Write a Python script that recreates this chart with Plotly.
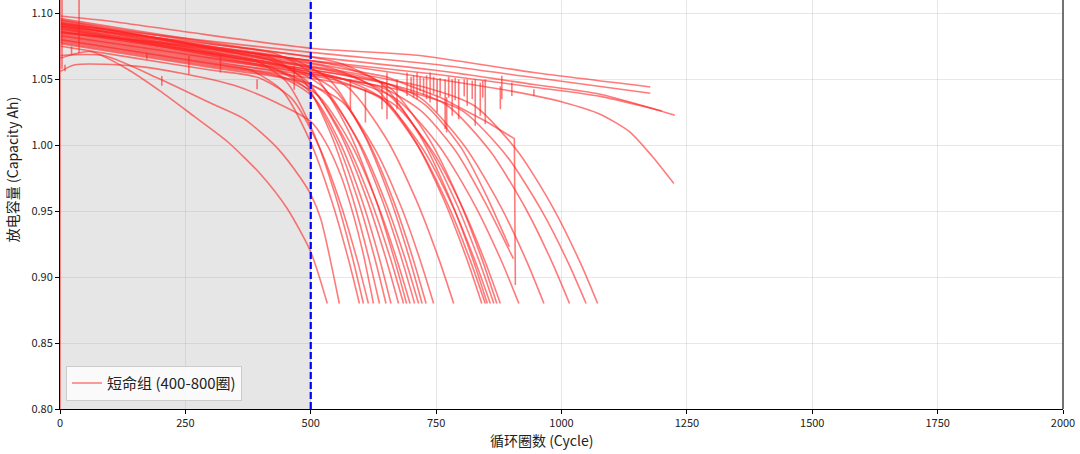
import plotly.graph_objects as go

# ---------------- data ----------------
LEGEND_LABEL = "短命组 (400-800圈)"
X_TITLE = "循环圈数 (Cycle)"
Y_TITLE = "放电容量 (Capacity Ah)"
x_ticks = [0, 250, 500, 750, 1000, 1250, 1500, 1750, 2000]
y_ticks = [0.80, 0.85, 0.90, 0.95, 1.00, 1.05, 1.10]
split_cycle = 500

c01_x = [1, 60, 133, 200, 267, 333, 400, 453, 500, 533]
c01_y = [1.066, 1.071, 1.058, 1.041, 1.022, 1.003, 0.978, 0.952, 0.919, 0.880]
c02_x = [1, 87, 200, 300, 367, 433, 480, 501, 520, 557]
c02_y = [1.068, 1.068, 1.050, 1.032, 1.020, 0.998, 0.975, 0.962, 0.944, 0.880]
c03_x = [1, 30, 150, 250, 350, 433, 500, 530, 560, 585, 605, 625]
c03_y = [1.056, 1.061, 1.060, 1.054, 1.045, 1.032, 1.018, 1.002, 0.977, 0.947, 0.917, 0.880]
c04_x = [2, 150, 300, 377, 443, 498, 542, 575, 597]
c04_y = [1.080, 1.071, 1.062, 1.0574, 1.0414, 1.0037, 0.9576, 0.9137, 0.880]
c05_x = [2, 150, 300, 385, 451, 506, 550, 583, 605]
c05_y = [1.088, 1.079, 1.070, 1.0649, 1.0483, 1.0090, 0.9609, 0.9151, 0.880]
c06_x = [2, 150, 300, 395, 461, 516, 560, 593, 615]
c06_y = [1.075, 1.066, 1.057, 1.0513, 1.0359, 0.9995, 0.9549, 0.9125, 0.880]
c07_x = [2, 150, 300, 417, 483, 538, 582, 615, 637]
c07_y = [1.092, 1.083, 1.074, 1.0670, 1.0502, 1.0104, 0.9618, 0.9155, 0.880]
c08_x = [2, 150, 300, 430, 496, 551, 595, 628, 650]
c08_y = [1.083, 1.074, 1.065, 1.0572, 1.0413, 1.0036, 0.9575, 0.9137, 0.880]
c09_x = [2, 150, 300, 440, 506, 561, 605, 638, 660]
c09_y = [1.078, 1.069, 1.060, 1.0516, 1.0362, 0.9997, 0.9551, 0.9126, 0.880]
c10_x = [2, 150, 300, 415, 493, 558, 610, 649, 675]
c10_y = [1.090, 1.081, 1.072, 1.0651, 1.0484, 1.0091, 0.9610, 0.9152, 0.880]
c11_x = [2, 150, 300, 425, 503, 568, 620, 659, 685]
c11_y = [1.084, 1.075, 1.066, 1.0585, 1.0424, 1.0045, 0.9581, 0.9139, 0.880]
c12_x = [2, 150, 300, 431, 509, 574, 626, 665, 691]
c12_y = [1.095, 1.086, 1.077, 1.0691, 1.0521, 1.0119, 0.9627, 0.9159, 0.880]
c13_x = [2, 150, 300, 438, 516, 581, 633, 672, 698]
c13_y = [1.079, 1.070, 1.061, 1.0527, 1.0372, 1.0005, 0.9556, 0.9128, 0.880]
c14_x = [2, 150, 300, 447, 525, 590, 642, 681, 707]
c14_y = [1.087, 1.078, 1.069, 1.0602, 1.0440, 1.0057, 0.9588, 0.9142, 0.880]
c15_x = [2, 150, 300, 455, 533, 598, 650, 689, 715]
c15_y = [1.081, 1.072, 1.063, 1.0537, 1.0381, 1.0012, 0.9560, 0.9130, 0.880]
c16_x = [2, 150, 300, 462, 540, 605, 657, 696, 722]
c16_y = [1.093, 1.084, 1.075, 1.0653, 1.0486, 1.0092, 0.9611, 0.9152, 0.880]
c17_x = [2, 150, 300, 470, 548, 613, 665, 704, 730]
c17_y = [1.086, 1.077, 1.068, 1.0578, 1.0418, 1.0040, 0.9578, 0.9138, 0.880]
c18_x = [2, 150, 300, 485, 563, 628, 680, 719, 745]
c18_y = [1.077, 1.068, 1.059, 1.0479, 1.0328, 0.9971, 0.9535, 0.9119, 0.880]
c19_x = [2, 150, 300, 485, 575, 650, 710, 755, 785]
c19_y = [1.089, 1.080, 1.071, 1.0599, 1.0437, 1.0055, 0.9587, 0.9142, 0.880]
c20_x = [2, 150, 350, 541, 631, 706, 766, 811, 841]
c20_y = [1.091, 1.082, 1.070, 1.0585, 1.0424, 1.0045, 0.9581, 0.9139, 0.880]
c21_x = [2, 150, 350, 548, 638, 713, 773, 818, 848]
c21_y = [1.085, 1.076, 1.064, 1.0521, 1.0366, 1.0000, 0.9553, 0.9127, 0.880]
c22_x = [2, 150, 350, 552, 642, 717, 777, 822, 852]
c22_y = [1.096, 1.087, 1.075, 1.0629, 1.0464, 1.0076, 0.9600, 0.9148, 0.880]
c23_x = [2, 150, 350, 558, 648, 723, 783, 828, 858]
c23_y = [1.082, 1.073, 1.061, 1.0485, 1.0333, 0.9975, 0.9537, 0.9120, 0.880]
c24_x = [2, 150, 350, 565, 655, 730, 790, 835, 865]
c24_y = [1.088, 1.079, 1.067, 1.0541, 1.0384, 1.0014, 0.9562, 0.9131, 0.880]
c25_x = [2, 150, 350, 571, 661, 736, 796, 841, 871]
c25_y = [1.093, 1.084, 1.072, 1.0587, 1.0426, 1.0046, 0.9582, 0.9140, 0.880]
c26_x = [2, 150, 350, 578, 668, 743, 803, 848, 878]
c26_y = [1.080, 1.071, 1.059, 1.0453, 1.0304, 0.9953, 0.9523, 0.9114, 0.880]
c27_x = [2, 150, 350, 565, 670, 757, 827, 880, 915]
c27_y = [1.090, 1.080, 1.066, 1.0504, 1.0351, 0.9989, 0.9546, 0.9124, 0.880]
c28_x = [2, 150, 400, 615, 720, 807, 877, 930, 965]
c28_y = [1.094, 1.084, 1.066, 1.0509, 1.0355, 0.9992, 0.9548, 0.9125, 0.880]
c29_x = [2, 200, 450, 666, 771, 858, 928, 981, 1016]
c29_y = [1.092, 1.078, 1.0605, 1.0454, 1.0305, 0.9954, 0.9524, 0.9114, 0.880]
c30_x = [2, 200, 450, 699, 804, 891, 961, 1014, 1049]
c30_y = [1.089, 1.075, 1.0575, 1.0401, 1.0257, 0.9917, 0.9500, 0.9104, 0.880]
c31_x = [2, 200, 450, 722, 827, 914, 984, 1037, 1072]
c31_y = [1.095, 1.081, 1.0635, 1.0445, 1.0297, 0.9947, 0.9520, 0.9113, 0.880]
c32_x = [2, 200, 450, 650, 730, 800, 850, 896]
c32_y = [1.086, 1.075, 1.060, 1.047, 1.030, 0.998, 0.962, 0.923]
c33_x = [2, 200, 450, 640, 720, 790, 850, 904]
c33_y = [1.083, 1.072, 1.057, 1.044, 1.026, 0.995, 0.955, 0.914]
c34_x = [2, 200, 450, 650, 760, 850, 906, 907, 908]
c34_y = [1.091, 1.080, 1.066, 1.052, 1.036, 1.018, 1.005, 0.95, 0.894]
c35_x = [2, 100, 250, 505, 712, 945, 1177]
c35_y = [1.098, 1.094, 1.086, 1.0733, 1.0682, 1.0551, 1.0442]
c36_x = [2, 250, 505, 745, 945, 1177]
c36_y = [1.092, 1.081, 1.0702, 1.0614, 1.0513, 1.0394]
c37_x = [2, 250, 505, 745, 945, 1077, 1226]
c37_y = [1.090, 1.079, 1.067, 1.057, 1.046, 1.0386, 1.0227]
c38_x = [2, 250, 505, 745, 945, 1077, 1200]
c38_y = [1.086, 1.075, 1.064, 1.054, 1.044, 1.037, 1.026]
c39_x = [2, 250, 500, 700, 900, 1003, 1077, 1137, 1180, 1224]
c39_y = [1.085, 1.076, 1.064, 1.053, 1.041, 1.0326, 1.0235, 1.0098, 0.992, 0.971]

# measurement glitches (vertical spikes): cycle, value on curve, glitch value
spike_cycle = [0, 4, 10, 23, 38, 173, 203, 257, 320, 393, 467, 579, 609, 642, 652,
               672, 692, 700, 705, 712, 718, 725, 731, 738, 745, 752, 758, 768, 775,
               782, 788, 795, 806, 812, 822, 828, 838, 843, 848, 878, 881, 901, 945, 771]
spike_from = [1.12, 1.058, 1.061, 1.075, 1.070, 1.070, 1.0525, 1.0677, 1.068, 1.050,
              1.060, 1.050, 1.0425, 1.0475, 1.0551, 1.050, 1.0551, 1.052, 1.053, 1.0551,
              1.052, 1.051, 1.053, 1.0551, 1.052, 1.050, 1.051, 1.050, 1.052, 1.050,
              1.051, 1.050, 1.050, 1.050, 1.049, 1.050, 1.0475, 1.049, 1.050, 1.0447,
              1.0526, 1.0475, 1.0425, 1.0364]
spike_to = [0.78, 1.12, 1.056, 1.069, 1.12, 1.065, 1.045, 1.0538, 1.055, 1.0425,
            1.042, 1.0273, 1.0172, 1.0273, 1.0197, 1.0273, 1.0374, 1.040, 1.036, 1.0349,
            1.041, 1.038, 1.035, 1.0324, 1.039, 1.0248, 1.037, 1.0122, 1.036, 1.0223,
            1.034, 1.0197, 1.037, 1.0298, 1.035, 1.0147, 1.0223, 1.036, 1.0160, 1.0273,
            1.0349, 1.0374, 1.0374, 1.0098]

curves = [
    (c01_x, c01_y), (c02_x, c02_y), (c03_x, c03_y), (c04_x, c04_y), (c05_x, c05_y),
    (c06_x, c06_y), (c07_x, c07_y), (c08_x, c08_y), (c09_x, c09_y), (c10_x, c10_y),
    (c11_x, c11_y), (c12_x, c12_y), (c13_x, c13_y), (c14_x, c14_y), (c15_x, c15_y),
    (c16_x, c16_y), (c17_x, c17_y), (c18_x, c18_y), (c19_x, c19_y), (c20_x, c20_y),
    (c21_x, c21_y), (c22_x, c22_y), (c23_x, c23_y), (c24_x, c24_y), (c25_x, c25_y),
    (c26_x, c26_y), (c27_x, c27_y), (c28_x, c28_y), (c29_x, c29_y), (c30_x, c30_y),
    (c31_x, c31_y), (c32_x, c32_y), (c33_x, c33_y), (c34_x, c34_y), (c35_x, c35_y),
    (c36_x, c36_y), (c37_x, c37_y), (c38_x, c38_y), (c39_x, c39_y),
]

# ---------------- figure ----------------
FONT = "Noto Sans CJK SC"
RED = "rgba(255,35,35,0.6)"

fig = go.Figure()
for i, (xs, ys) in enumerate(curves):
    shape = "linear" if xs is c34_x else "spline"
    fig.add_trace(go.Scatter(
        x=xs, y=ys, mode="lines",
        line=dict(color=RED, width=1.6, shape=shape, smoothing=0.7),
        name=LEGEND_LABEL, legendgroup="short", showlegend=(i == 0),
        hoverinfo="skip",
    ))

sx, sy = [], []
for c, a, b in zip(spike_cycle, spike_from, spike_to):
    sx += [c, c, None]
    sy += [a, b, None]
fig.add_trace(go.Scatter(x=sx, y=sy, mode="lines", line=dict(color=RED, width=1.6),
                         showlegend=False, legendgroup="short", hoverinfo="skip"))

axis_common = dict(
    showgrid=True, gridcolor="rgba(176,176,176,0.3)", gridwidth=1,
    zeroline=False, showline=True, linecolor="black", linewidth=1,
    ticks="outside", ticklen=4, tickwidth=1, tickcolor="black",
    tickfont=dict(family=FONT, size=11, color="#222"),
)

fig.update_layout(
    width=1080, height=454,
    margin=dict(l=60, r=17, t=0, b=45),
    paper_bgcolor="white", plot_bgcolor="white",
    font=dict(family=FONT, color="#222"),
    xaxis=dict(range=[0, 2000], tickvals=x_ticks, **axis_common),
    yaxis=dict(range=[0.80, 1.1101], tickvals=y_ticks, tickformat=".2f", **axis_common),
    legend=dict(x=0.006, y=0.02, xanchor="left", yanchor="bottom",
                bgcolor="rgba(255,255,255,0.8)", bordercolor="#cccccc", borderwidth=1,
                font=dict(family=FONT, size=15, color="#222")),
    shapes=[
        dict(type="rect", xref="x", yref="paper", x0=0, x1=split_cycle, y0=0, y1=1,
             fillcolor="rgba(128,128,128,0.2)", line=dict(width=0), layer="below"),
        dict(type="line", xref="x", yref="paper", x0=split_cycle, x1=split_cycle, y0=0, y1=1,
             line=dict(color="blue", width=2.2, dash="7px,3px"), layer="above"),
        dict(type="line", xref="paper", yref="paper", x0=1, x1=1, y0=0, y1=1,
             line=dict(color="rgba(0,0,0,0.55)", width=2), layer="above"),
    ],
    annotations=[
        dict(text=X_TITLE, xref="paper", yref="paper", x=0.48, y=0, yshift=-31,
             xanchor="center", yanchor="middle", showarrow=False,
             font=dict(family=FONT, size=14, color="#222")),
        dict(text=Y_TITLE, xref="paper", yref="paper", x=0, xshift=-48, y=0.584,
             xanchor="center", yanchor="middle", textangle=-90, showarrow=False,
             font=dict(family=FONT, size=14, color="#222")),
    ],
)

fig.write_html("out.html", config={"displayModeBar": False},
               post_script="document.body.style.margin='0px';document.body.style.padding='0px';")
